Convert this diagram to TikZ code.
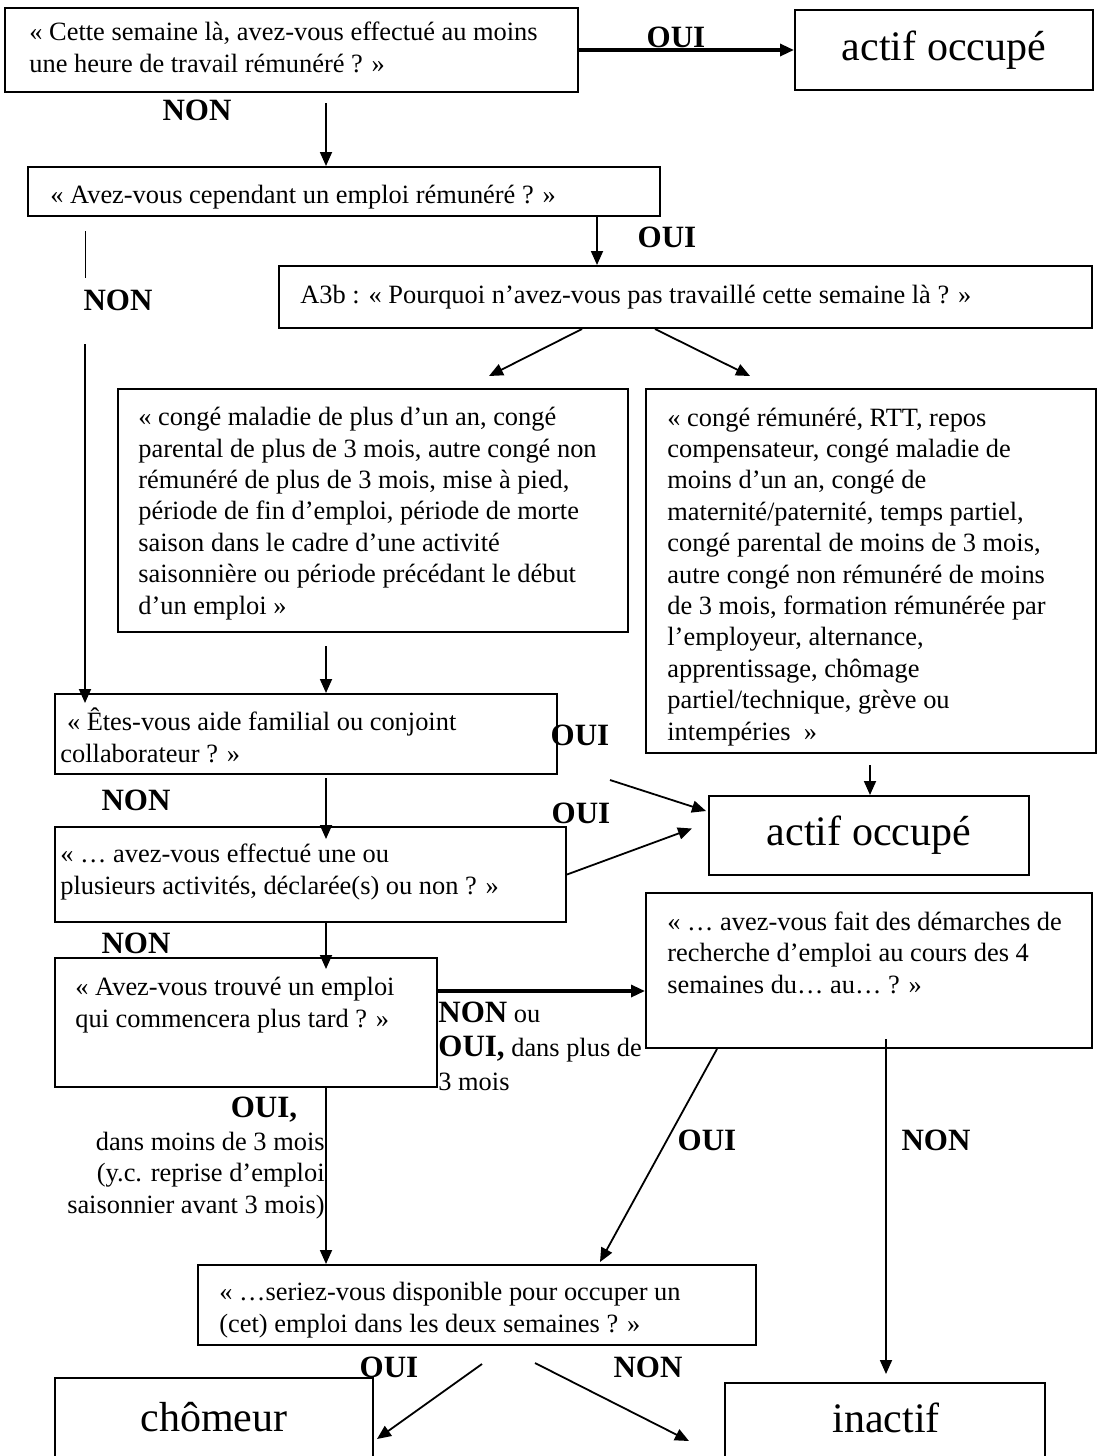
\documentclass[tikz,border=0pt]{standalone}
\usepackage{fontspec}
\setmainfont{Liberation Serif}
\usepackage{tikz}
\usetikzlibrary{positioning,arrows.meta,fit,calc}
\tikzset{
  qbox/.style={draw, line width=1pt, inner sep=0pt},
  qtext/.style={font=\fontsize{13.2}{15.7}\selectfont, align=left, anchor=base west, inner sep=0pt},
  qbig/.style={font=\fontsize{21}{25}\selectfont, inner sep=0pt},
  qlabel/.style={font=\bfseries\fontsize{15.5}{18}\selectfont, inner sep=0pt},
  qarrow/.style={-{Triangle[length=7pt,width=6pt]}, line width=0.9pt},
  qthick/.style={qarrow, line width=1.6pt},
}
\newcommand{\reponse}[1]{{\bfseries\fontsize{15.5}{17}\selectfont #1}}

\begin{document}
\begin{tikzpicture}[x=0.5pt, y=-0.5pt]
  \useasboundingbox (0,0) rectangle (1098,1456);
  \clip (0,0) rectangle (1098,1456);
  \coordinate (colA) at (326,0);
  \coordinate (colB) at (597,0);
  \coordinate (colL) at (85,0);
  \coordinate (colR) at (870,0);
  \coordinate (colN) at (886,0);
  % boxes
  \node[qbox, fit={(5,8) (578,92)}] (q1) {};
  \node[qbox, fit={(795,10) (1093,90)}] (act1) {};
  \node[qbox, fit={(28,167) (660,216)}] (q2) {};
  \node[qbox, fit={(279,266) (1092,328)}] (q3) {};
  \node[qbox, fit={(118,389) (628,632)}] (q4) {};
  \node[qbox, fit={(646,389) (1096,753)}] (q5) {};
  \node[qbox, fit={(55,694) (557,774)}] (q6) {};
  \node[qbox, fit={(709,796) (1029,875)}] (act2) {};
  \node[qbox, fit={(55,827) (566,922)}] (q7) {};
  \node[qbox, fit={(646,893) (1092,1048)}] (q9) {};
  \node[qbox, fit={(55,958) (437,1087)}] (q8) {};
  \node[qbox, fit={(198,1265) (756,1345)}] (q10) {};
  \node[qbox, fit={(55,1378) (373,1490)}] (chom) {};
  \node[qbox, fit={(725,1383) (1045,1490)}] (inact) {};
  % texts (placed at the baseline of their last line)
  \node[qtext] (q1t) at (29,72) {« Cette semaine là, avez-vous effectué au moins\\une heure de travail rémunéré ? »};
  \node[qbig] (act1t) at (act1) {actif occupé};
  \node[qtext] (q2t) at (50,203) {« Avez-vous cependant un emploi rémunéré ? »};
  \node[qtext] (q3t) at (300,303) {A3b : « Pourquoi n’avez-vous pas travaillé cette semaine là ? »};
  \node[qtext] (q4t) at (138,614) {« congé maladie de plus d’un an, congé\\parental de plus de 3 mois, autre congé non\\rémunéré de plus de 3 mois, mise à pied,\\période de fin d’emploi, période de morte\\saison dans le cadre d’une activité\\saisonnière ou période précédant le début\\d’un emploi »};
  \node[qtext] (q5t) at (667,740) {« congé rémunéré, RTT, repos\\compensateur, congé maladie de\\moins d’un an, congé de\\maternité/paternité, temps partiel,\\congé parental de moins de 3 mois,\\autre congé non rémunéré de moins\\de 3 mois, formation rémunérée par\\l’employeur, alternance,\\apprentissage, chômage\\partiel/technique, grève ou\\intempéries~ »};
  \node[qtext] (q6t) at (60,762) {~« Êtes-vous aide familial ou conjoint\\collaborateur ? »};
  \node[qbig] (act2t) at (act2) {actif occupé};
  \node[qtext] (q7t) at (60,894) {« … avez-vous effectué une ou\\plusieurs activités, déclarée(s) ou non ? »};
  \node[qtext] (q8t) at (75,1027) {« Avez-vous trouvé un emploi\\qui commencera plus tard ? »};
  \node[qtext] (q9t) at (667,993) {« … avez-vous fait des démarches de\\recherche d’emploi au cours des 4\\semaines du… au… ? »};
  \node[qtext] (q10t) at (219,1332) {« …seriez-vous disponible pour occuper un\\(cet) emploi dans les deux semaines ? »};
  \node[qbig] (chomt) at (214,1417) {chômeur};
  \node[qbig] (inactt) at (886,1418) {inactif};
  % answers
  \node[qlabel] (oui1) at (676,37) {OUI};
  \node[qlabel] (non1) at (197,110) {NON};
  \node[qlabel] (oui2) at (667,237) {OUI};
  \node[qlabel] (non2) at (118,300) {NON};
  \node[qlabel] (oui3) at (580,735) {OUI};
  \node[qlabel] (non3) at (136,800) {NON};
  \node[qlabel] (oui4) at (581,813) {OUI};
  \node[qlabel] (non4) at (136,943) {NON};
  \node[qtext, font=\fontsize{13.2}{17}\selectfont] (plus) at (438,1090) {\reponse{NON} ou\\\reponse{OUI,} dans plus de\\3 mois};
  \node[qlabel] (oui5) at (264,1110) {OUI,};
  \node[qtext, anchor=base east, align=right] (moins) at (325,1213) {dans moins de 3 mois\\(y.c. reprise d’emploi\\saisonnier avant 3 mois)};
  \node[qlabel] (oui6) at (707,1140) {OUI};
  \node[qlabel] (non6) at (936,1140) {NON};
  \node[qlabel] (oui7) at (389,1367) {OUI};
  \node[qlabel] (non7) at (648,1367) {NON};
  % connectors
  \draw[qthick] (q1.east) -- (act1.west);
  \draw[qarrow] ($(q1.south -| colA)+(0,10)$) -- (q2.north -| colA);
  \draw[qarrow] (q2.south -| colB) -- (q3.north -| colB);
  \draw ($(q2.south -| colL)+(0,14)$) -- ($(non2.west -| colL)+(0,-22)$);
  \draw[qarrow] ($(non2.west -| colL)+(0,44)$) -- ($(q6.north -| colL)+(0,10)$);
  \draw[qarrow] ($(q3.south west)+(304,0)$) -- ($(q4.north west)+(372,-12)$);
  \draw[qarrow] ($(q3.south west)+(377,0)$) -- ($(q5.north west)+(105,-12)$);
  \draw[qarrow] ($(q4.south -| colA)+(0,13)$) -- (q6.north -| colA);
  \draw[qarrow] ($(q5.south -| colR)+(0,11)$) -- (act2.north -| colR);
  \draw[qarrow] ($(q6.south east)+(52,5)$) -- ($(act2.north west)+(-2,16)$);
  \draw[qarrow] ($(q6.south -| colA)+(0,3)$) -- ($(q7.north -| colA)+(0,13)$);
  \draw[qarrow] (q7.east) -- ($(act2.west)+(-16,-7)$);
  \draw[qarrow] (q7.south -| colA) -- ($(q8.north -| colA)+(0,12)$);
  \coordinate (c89) at ($(q8.north east)+(0,34)$);
  \draw[qthick] (c89) -- (c89 -| q9.west);
  \draw[qarrow] (q8.south -| colA) -- (q10.north -| colA);
  \draw[qarrow] ($(q9.south west)+(72,0)$) -- ($(q10.north west)+(403,-2)$);
  \draw[qarrow] ($(q9.south -| colN)+(0,-10)$) -- ($(inact.north -| colN)+(0,-8)$);
  \draw[qarrow] ($(q10.south west)+(285,18)$) -- ($(chom.north east)+(3,62)$);
  \draw[qarrow] ($(q10.south west)+(338,17)$) -- ($(inact.north west)+(-35,59)$);
\end{tikzpicture}
\end{document}
